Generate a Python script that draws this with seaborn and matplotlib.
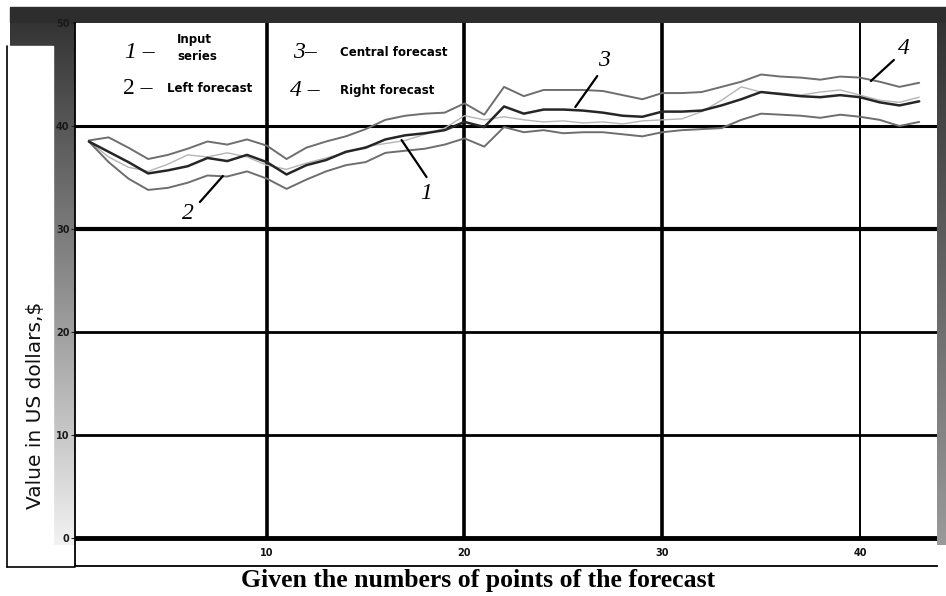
import numpy as np
import pandas as pd
import matplotlib
matplotlib.use("Agg")
import matplotlib.pyplot as plt
import seaborn as sns
from matplotlib.lines import Line2D
from matplotlib.patches import Rectangle
from matplotlib.colors import LinearSegmentedColormap

# ---------------- data ----------------
points = list(range(1, 44))
input_series = [38.5, 37.0, 36.0, 35.6, 36.3, 37.2, 37.0, 37.4, 37.0, 36.2,
                35.8, 36.4, 36.9, 37.4, 38.0, 38.3, 38.6, 39.2, 39.8, 41.0,
                40.6, 40.9, 40.6, 40.4, 40.5, 40.3, 40.4, 40.2, 40.5, 40.6,
                40.7, 41.4, 42.5, 43.8, 43.3, 43.2, 43.0, 43.3, 43.5, 43.0,
                42.5, 42.3, 42.8]
left_forecast = [38.5, 36.5, 34.9, 33.8, 34.0, 34.5, 35.2, 35.1, 35.6, 34.9,
                 33.9, 34.8, 35.6, 36.2, 36.5, 37.4, 37.6, 37.8, 38.2, 38.8,
                 38.0, 39.9, 39.4, 39.6, 39.3, 39.4, 39.4, 39.2, 39.0, 39.4,
                 39.6, 39.7, 39.8, 40.6, 41.2, 41.1, 41.0, 40.8, 41.1, 40.9,
                 40.6, 40.0, 40.4]
central_forecast = [38.5, 37.5, 36.5, 35.4, 35.7, 36.1, 36.9, 36.6, 37.2, 36.5,
                    35.3, 36.2, 36.7, 37.5, 37.9, 38.7, 39.1, 39.3, 39.6, 40.4,
                    39.9, 41.9, 41.2, 41.6, 41.6, 41.5, 41.3, 41.0, 40.9, 41.4,
                    41.4, 41.5, 42.0, 42.6, 43.3, 43.1, 42.9, 42.8, 43.0, 42.8,
                    42.3, 42.0, 42.4]
right_forecast = [38.6, 38.9, 37.9, 36.8, 37.2, 37.8, 38.5, 38.2, 38.7, 38.1,
                  36.8, 37.9, 38.5, 39.0, 39.7, 40.6, 41.0, 41.2, 41.3, 42.2,
                  41.1, 43.8, 42.9, 43.5, 43.5, 43.5, 43.4, 43.0, 42.6, 43.2,
                  43.2, 43.3, 43.8, 44.3, 45.0, 44.8, 44.7, 44.5, 44.8, 44.7,
                  44.3, 43.8, 44.2]
y_ticks = [0, 10, 20, 30, 40, 50]
x_ticks = [10, 20, 30, 40]
legend_numbers = ["1 \u2013", "2 \u2013", "3\u2013", "4 \u2013"]
legend_labels = ["Input\nseries", "Left forecast", "Central forecast", "Right forecast"]
x_title = "Given the numbers of points of the forecast"
y_title = "Value in US dollars,$"

df = pd.DataFrame({"point": points, "input": input_series, "left": left_forecast,
                   "central": central_forecast, "right": right_forecast})

# ---------------- figure ----------------
sns.set_theme(style="white")
plt.rcParams["font.family"] = ["DejaVu Sans"]
W, H = 946, 596
fig = plt.figure(figsize=(W / 100, H / 100), dpi=100)
fig.patch.set_facecolor("white")


def fx(px):
    return px / W


def fy(py):
    return 1 - py / H


# left gray gradient panel
gcmap = LinearSegmentedColormap.from_list("g", ["#2f2f2f", "#8a8a8a", "#f2f2f2"])
grad = np.linspace(0, 1, 256).reshape(-1, 1)
bgl = fig.add_axes([fx(10), fy(545), fx(75) - fx(10), fy(7) - fy(545)])
bgl.imshow(grad, aspect="auto", cmap=gcmap)
bgl.set_axis_off()
bgl.set_zorder(0)
# right dark band
bgr = fig.add_axes([fx(936), fy(545), fx(946) - fx(936), fy(7) - fy(545)])
bgr.imshow(grad, aspect="auto", cmap=LinearSegmentedColormap.from_list("r", ["#2f2f2f", "#9a9a9a"]))
bgr.set_axis_off()
bgr.set_zorder(0)
# top dark band
fig.patches.append(Rectangle((fx(10), fy(22)), fx(946) - fx(10), fy(7) - fy(22),
                             transform=fig.transFigure, color="#2d2d2d", zorder=0))
# white box for y label
fig.patches.append(Rectangle((fx(7), fy(567)), fx(53) - fx(7), fy(46) - fy(567),
                             transform=fig.transFigure, color="white", zorder=1))
fig.lines.append(Line2D([fx(7), fx(7)], [fy(46), fy(567)], transform=fig.transFigure,
                        color="black", lw=1.2))
fig.lines.append(Line2D([fx(7), fx(75)], [fy(567), fy(567)], transform=fig.transFigure,
                        color="black", lw=1.2))

# main axes
ax = fig.add_axes([fx(75), fy(566), fx(937) - fx(75), fy(23) - fy(566)])
ax.set_zorder(3)
ax.set_facecolor("white")
ax.set_xlim(0.3, 43.9)
ax.set_ylim(-2.7, 50)

# grid
hw = [3.5, 2.0, 2.0, 3.0, 2.2]
for yv, w in zip(y_ticks[:-1], hw):
    ax.axhline(yv, color="black", lw=w, zorder=1)
ax.vlines(x_ticks, 0, 50, colors="black", lw=[2.6, 2.6, 2.6, 1.4], zorder=1)

# series
sns.lineplot(data=df, x="point", y="input", ax=ax, color="#b5b5b5", lw=1.0, zorder=3)
sns.lineplot(data=df, x="point", y="right", ax=ax, color="#6e6e6e", lw=1.4, zorder=4)
sns.lineplot(data=df, x="point", y="left", ax=ax, color="#6e6e6e", lw=1.4, zorder=4)
sns.lineplot(data=df, x="point", y="central", ax=ax, color="#262626", lw=1.8, zorder=5)

ax.set_xlabel("")
ax.set_ylabel("")
ax.set_yticks(y_ticks)
ax.set_yticklabels([str(v) for v in y_ticks], fontsize=7, fontweight="bold", color="#1a1a1a")
ax.tick_params(axis="y", direction="out", length=3, width=0.8, color="#222", pad=1, left=True)
ax.set_xticks(x_ticks)
ax.set_xticklabels([str(v) for v in x_ticks], fontsize=7, fontweight="bold", color="#111")
ax.tick_params(axis="x", length=0, pad=-13)
for s in ["left", "bottom"]:
    ax.spines[s].set_color("black")
    ax.spines[s].set_linewidth(1.3)
for s in ["top", "right"]:
    ax.spines[s].set_visible(False)


def d(px, py):
    return ((px - 69) / 19.8, (538 - py) / 10.3)


# leader lines + numbers
annos = [("1", (427, 193), (427, 177), (402, 140)),
         ("2", (188, 213), (200, 202), (223, 176)),
         ("3", (605, 60), (598, 76), (576, 107)),
         ("4", (905, 48), (895, 60), (872, 81))]
for lab, tp, p0, p1 in annos:
    ax.annotate("", xy=d(*p1), xytext=d(*p0),
                arrowprops=dict(arrowstyle="-", lw=1.6, color="black", shrinkA=0, shrinkB=0),
                zorder=6)
    ax.text(*d(*tp), lab, fontsize=17, family="Liberation Serif", style="italic",
            ha="center", va="center", color="black", zorder=6)

# legend block (text)
num_pos = [(140, 53), (138, 88), (305, 52), (305, 90)]
lab_pos = [(177, 48), (167, 88), (340, 52), (340, 90)]
for i, (n, l) in enumerate(zip(legend_numbers, legend_labels)):
    fig.text(fx(num_pos[i][0]), fy(num_pos[i][1]), n, fontsize=17,
             family="Liberation Serif", style="normal" if i == 1 else "italic",
             ha="center", va="center", color="black", zorder=10)
    fig.text(fx(lab_pos[i][0]), fy(lab_pos[i][1]), l, fontsize=8.5, fontweight="bold",
             ha="left", va="center", color="black", linespacing=1.5, zorder=10)

# titles
fig.text(fx(478), fy(581), x_title, fontsize=18.5, family="Liberation Serif",
         fontweight="bold", ha="center", va="center", color="black")
fig.text(fx(35), fy(405), y_title, fontsize=14.5, rotation=90, ha="center", va="center",
         color="#111", zorder=5)

fig.savefig("out.png", dpi=100)
